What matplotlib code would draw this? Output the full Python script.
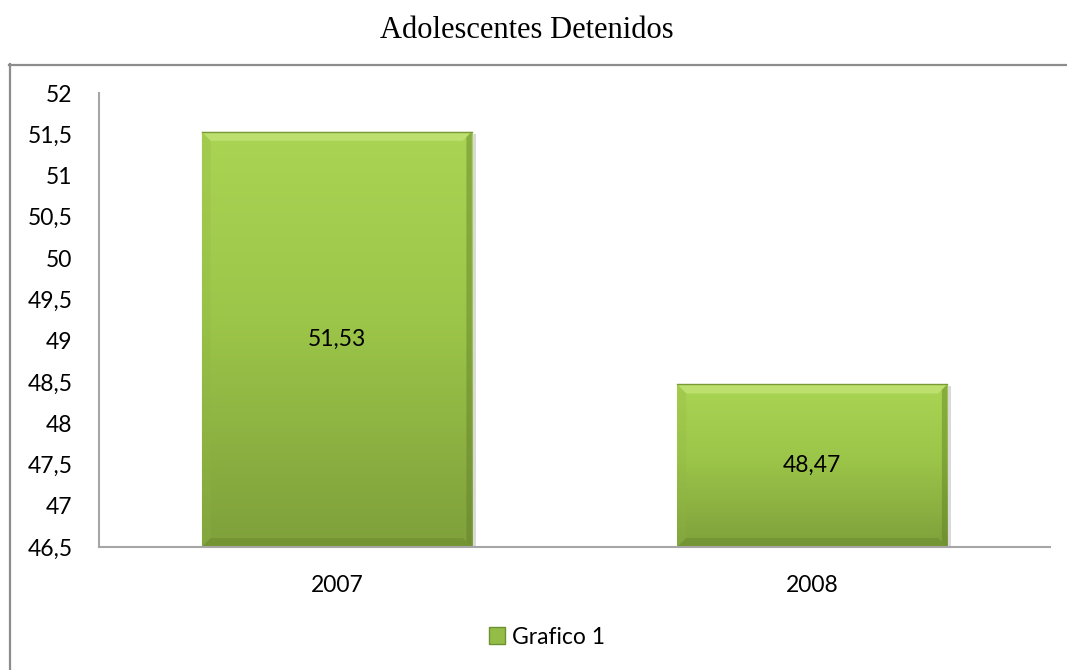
import matplotlib
matplotlib.use("Agg")
import matplotlib.pyplot as plt
import numpy as np
from matplotlib.patches import Rectangle, Polygon, Patch
from matplotlib.lines import Line2D
from matplotlib.colors import LinearSegmentedColormap

categories = ["2007", "2008"]
values = [51.53, 48.47]
value_labels = ["51,53", "48,47"]
series_name = "Grafico 1"
title = "Adolescentes Detenidos"
yticks = [46.5, 47, 47.5, 48, 48.5, 49, 49.5, 50, 50.5, 51, 51.5, 52]
ytick_labels = ["46,5", "47", "47,5", "48", "48,5", "49", "49,5", "50", "50,5", "51", "51,5", "52"]

W, H = 1067, 670
fig = plt.figure(figsize=(W / 100, H / 100), dpi=100)
ax = fig.add_axes([99 / W, 1 - 547 / H, (1050 - 99) / W, (547 - 93) / H])
ymin, ymax = 46.5, 52
ax.set_xlim(-0.5, 1.5)
ax.set_ylim(ymin, ymax)

font = "Lato"
fs = 16.5
bar_w = 0.568
cmap = LinearSegmentedColormap.from_list("g", [(0, "#7fa03b"), (0.55, "#9cc649"), (1, "#aad453")])
grad = np.linspace(0, 1, 256).reshape(-1, 1)

# pixel sizes in data units
px_x = 2.0 / (1050 - 99)
px_y = (ymax - ymin) / (547 - 93)
bev = 9

for i, v in enumerate(values):
    x0, x1 = i - bar_w / 2, i + bar_w / 2
    sh = Rectangle((x0 + 2 * px_x, ymin), bar_w + 2 * px_x, v - ymin - 2 * px_y,
                   facecolor="#000000", alpha=0.15, edgecolor="none", zorder=2)
    ax.add_patch(sh)
    im = ax.imshow(grad, cmap=cmap, aspect="auto", origin="lower",
                   extent=(x0, x1, ymin, v), zorder=3, interpolation="bilinear")
    clip = Rectangle((x0, ymin), bar_w, v - ymin, transform=ax.transData)
    im.set_clip_path(clip)
    bx, by = bev * px_x, bev * px_y
    top = Polygon([(x0, v), (x1, v), (x1 - bx, v - by), (x0 + bx, v - by)],
                  facecolor="#c0e274", edgecolor="none", zorder=4, alpha=0.85)
    left = Polygon([(x0, v), (x0 + bx, v - by), (x0 + bx, ymin + by), (x0, ymin)],
                   facecolor="#8fb545", edgecolor="none", zorder=4, alpha=0.25)
    right = Polygon([(x1, v), (x1 - bx * 0.6, v - by * 0.6), (x1 - bx * 0.6, ymin + by * 0.6), (x1, ymin)],
                    facecolor="#5f7d28", edgecolor="none", zorder=4, alpha=0.45)
    bottom = Polygon([(x0, ymin), (x1, ymin), (x1 - bx, ymin + by), (x0 + bx, ymin + by)],
                     facecolor="#6a8a2e", edgecolor="none", zorder=4, alpha=0.5)
    for p in (top, left, right, bottom):
        ax.add_patch(p)
    ax.add_line(Line2D([x0, x1], [v, v], color="#7a9a38", lw=1, zorder=5))
    ax.text(i, (ymin + v) / 2, value_labels[i], ha="center", va="center",
            fontsize=fs, family=font, color="black", zorder=6)

ax.set_xticks(range(len(categories)))
ax.set_xticklabels(categories, fontsize=fs, family=font)
ax.set_yticks(yticks)
ax.set_yticklabels(ytick_labels, fontsize=fs, family=font)
ax.tick_params(axis="both", length=0)
ax.tick_params(axis="y", pad=19)
ax.tick_params(axis="x", pad=20)
for s in ("top", "right"):
    ax.spines[s].set_visible(False)
for s in ("left", "bottom"):
    ax.spines[s].set_color("#a6a6a6")
    ax.spines[s].set_linewidth(1.5)
    ax.spines[s].set_zorder(5)

fig.text(527 / W, 1 - 31 / H, title, ha="center", va="center",
         fontsize=22, family="Liberation Serif")

# outer frame
fig.add_artist(Line2D([9.5 / W, 9.5 / W], [0, 1 - 64 / H], color="#8c8c8c", lw=1.6,
                      transform=fig.transFigure))
fig.add_artist(Line2D([9 / W, 1], [1 - 64.5 / H, 1 - 64.5 / H], color="#8c8c8c", lw=1.6,
                      transform=fig.transFigure))

handle = Patch(facecolor="#93bd47", edgecolor="#6f9030", label=series_name)
leg = fig.legend(handles=[handle], loc="center", bbox_to_anchor=(547 / W, 1 - 637 / H),
                 frameon=False, prop={"family": font, "size": fs},
                 handlelength=0.7, handleheight=0.7, handletextpad=0.3)

fig.savefig("out.png", dpi=100)
